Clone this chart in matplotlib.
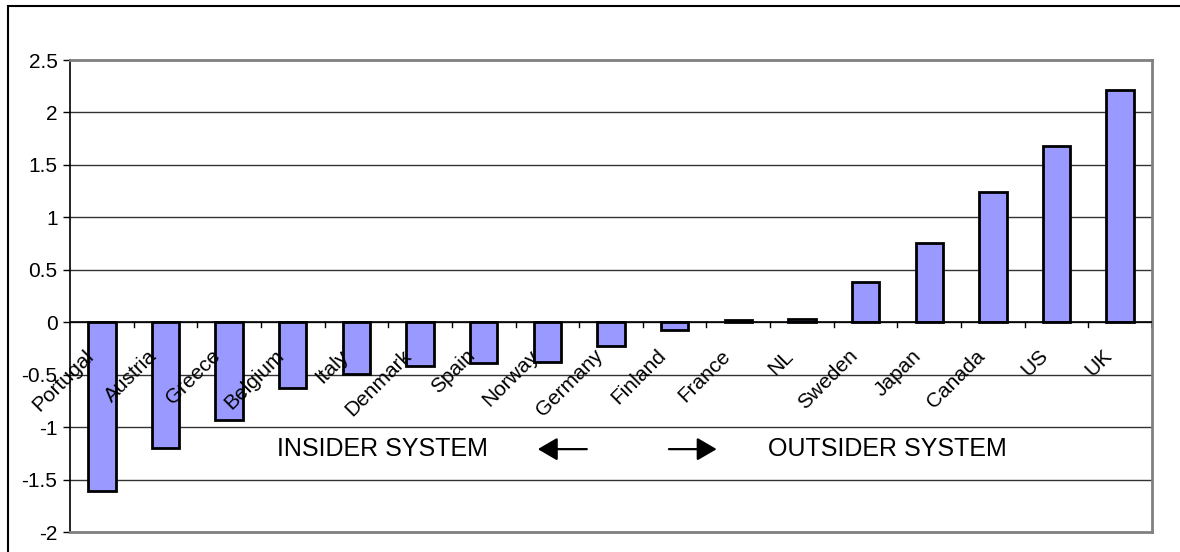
import matplotlib
matplotlib.use("Agg")
import matplotlib.pyplot as plt
from matplotlib.patches import Rectangle
from matplotlib.transforms import offset_copy

countries = ["Portugal", "Austria", "Greece", "Belgium", "Italy", "Denmark", "Spain",
             "Norway", "Germany", "Finland", "France", "NL", "Sweden", "Japan",
             "Canada", "US", "UK"]
values = [-1.61, -1.20, -0.93, -0.63, -0.49, -0.42, -0.39, -0.38, -0.23, -0.07,
          0.02, 0.03, 0.38, 0.76, 1.24, 1.68, 2.21]
yticks = [-2, -1.5, -1, -0.5, 0, 0.5, 1, 1.5, 2, 2.5]
ytick_labels = ["-2", "-1.5", "-1", "-0.5", "0", "0.5", "1", "1.5", "2", "2.5"]

plt.rcParams['font.family'] = ['Liberation Sans', 'DejaVu Sans']

W, H = 1180, 552
fig = plt.figure(figsize=(W / 100, H / 100), dpi=100)
ax = fig.add_axes([70 / W, (H - 532) / H, (1152 - 70) / W, (532 - 60) / H])

n = len(countries)
x = list(range(n))
ax.bar(x, values, width=0.43, color="#9999FF", edgecolor="black", linewidth=2.0, zorder=3)

ax.set_xlim(-0.5, n - 0.5)
ax.set_ylim(-2, 2.5)
ax.set_yticks(yticks)
ax.set_yticklabels(ytick_labels, fontsize=15)
ax.tick_params(axis='y', length=5, width=1, color='black', pad=4)
ax.set_xticks([])
for yv in yticks[1:-1]:
    ax.axhline(yv, color="#333333", linewidth=1.0, zorder=1)

for s in ["top", "right", "bottom"]:
    ax.spines[s].set_color("#808080")
    ax.spines[s].set_linewidth(2)
ax.spines["left"].set_color("black")
ax.spines["left"].set_linewidth(1.2)

# zero axis line with category boundary ticks
ax.axhline(0, color="black", linewidth=1.2, zorder=4)
for b in range(1, n + 1):
    ax.plot([b - 0.5, b - 0.5], [0, -0.045], color="black", linewidth=1, zorder=4)

# category labels near zero line
for i, c in enumerate(countries):
    tr = offset_copy(ax.transData, fig=fig, x=-18 * 0.72, y=-24 * 0.72, units='points')
    ax.text(i, 0, c, transform=tr, rotation=45, ha='right', va='top',
            rotation_mode='anchor', fontsize=15, zorder=5)

# annotations
ax.text(2.75, -1.21, "INSIDER SYSTEM", fontsize=18, ha='left', va='center', zorder=5)
ax.text(10.47, -1.21, "OUTSIDER SYSTEM", fontsize=18, ha='left', va='center', zorder=5)
ax.annotate("", xy=(6.85, -1.21), xytext=(7.62, -1.21),
            arrowprops=dict(arrowstyle="-|>,head_length=1.2,head_width=0.7",
                            color="black", lw=1.6, shrinkA=0, shrinkB=0), zorder=5)
ax.annotate("", xy=(9.66, -1.21), xytext=(8.91, -1.21),
            arrowprops=dict(arrowstyle="-|>,head_length=1.2,head_width=0.7",
                            color="black", lw=1.6, shrinkA=0, shrinkB=0), zorder=5)

# outer chart border
fig.patches.append(Rectangle((8 / W, -0.01), 1.02, (H - 6) / H + 0.01, transform=fig.transFigure,
                             fill=False, edgecolor="black", linewidth=1.5))

fig.savefig("out.png", dpi=100)
